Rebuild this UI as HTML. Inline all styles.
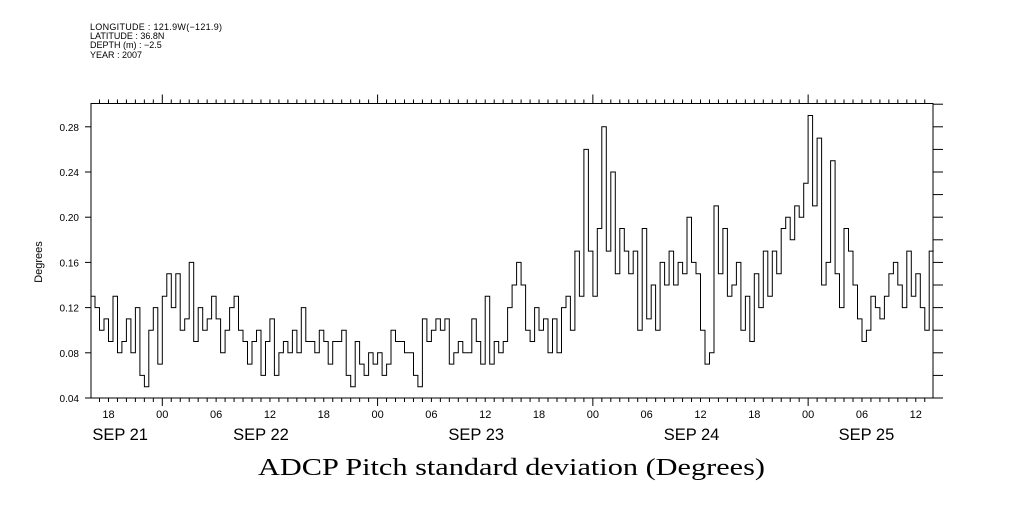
<!DOCTYPE html>
<html><head><meta charset="utf-8"><style>
body{margin:0;background:#fff;}
svg text{font-family:"Liberation Sans",sans-serif;fill:#000;}
</style></head><body>
<svg id="chart" width="1009" height="504" viewBox="0 0 1009 504" xmlns="http://www.w3.org/2000/svg">
<g>
<text x="90" y="30" textLength="132" style="font-size:9px">LONGITUDE : 121.9W(−121.9)</text>
<text x="90" y="39" style="font-size:9px">LATITUDE : 36.8N</text>
<text x="90" y="48" style="font-size:9px">DEPTH (m) : −2.5</text>
<text x="90" y="58" style="font-size:9px">YEAR : 2007</text>
</g>
<rect x="91" y="103.5" width="842" height="294.5" fill="none" stroke="#000" stroke-width="1"/>
<g id="axes"></g>
<path id="series" fill="none" stroke="#000" stroke-width="1"/>
<text x="42" y="262" transform="rotate(-90 42 262)" text-anchor="middle" style="font-size:11px">Degrees</text>
<text x="258" y="475" textLength="507" lengthAdjust="spacingAndGlyphs" style="font-family:'Liberation Serif',serif;font-size:24px">ADCP Pitch standard deviation (Degrees)</text>
</svg>
<script>
// time in hours since Sep 21 00:00, half-hour steps starting at 16:00
const startHour = 16;
const stepHours = 0.5;
const values = [0.13,0.12,0.10,0.11,0.09,0.13,0.08,0.09,0.11,0.08,0.12,0.06,0.05,0.10,0.12,0.07,
0.13,0.15,0.12,0.15,0.10,0.11,0.16,0.09,0.12,0.10,0.11,0.13,0.11,0.08,0.10,0.12,0.13,0.10,0.09,0.07,
0.09,0.10,0.06,0.09,0.11,0.06,0.08,0.09,0.08,0.10,0.08,0.12,0.09,0.09,0.08,0.10,0.09,0.07,0.09,0.09,
0.10,0.06,0.05,0.09,0.07,0.06,0.08,0.07,0.08,0.06,0.07,0.10,0.09,0.09,0.08,0.08,0.06,0.05,0.11,0.09,
0.10,0.11,0.10,0.11,0.07,0.08,0.09,0.08,0.08,0.11,0.09,0.07,0.13,0.07,0.09,0.08,0.09,0.12,0.14,0.16,
0.14,0.10,0.09,0.12,0.10,0.11,0.08,0.11,0.08,0.12,0.13,0.10,0.17,0.13,0.26,0.17,0.13,0.19,0.28,0.17,
0.24,0.15,0.19,0.17,0.15,0.17,0.10,0.19,0.11,0.14,0.10,0.16,0.14,0.17,0.14,0.16,0.15,0.20,0.16,0.15,
0.10,0.07,0.08,0.21,0.15,0.19,0.13,0.14,0.16,0.10,0.13,0.09,0.15,0.12,0.17,0.13,0.17,0.15,0.19,0.20,
0.18,0.21,0.20,0.23,0.29,0.21,0.27,0.14,0.16,0.25,0.15,0.12,0.19,0.17,0.14,0.11,0.09,0.10,0.13,0.12,
0.11,0.13,0.15,0.16,0.14,0.12,0.17,0.13,0.15,0.12,0.10,0.17];
const yTicks = [0.04,0.08,0.12,0.16,0.20,0.24,0.28];
const yTickLabels = ["0.04","0.08","0.12","0.16","0.20","0.24","0.28"];
const xTickHours = [18,24,30,36,42,48,54,60,66,72,78,84,90,96,102,108];
const xTickLabels = ["18","00","06","12","18","00","06","12","18","00","06","12","18","00","06","12"];
const dayLabelHours = [19.3,35,59,83,102.5];
const dayLabels = ["SEP 21","SEP 22","SEP 23","SEP 24","SEP 25"];

const X0=91,X1=933,Y0=398,Y1=103.5;
const xs = h => 162.3 + (h-24)*8.97;
const ys = v => 398 - (v-0.04)*1130;
const NS="http://www.w3.org/2000/svg";
const axes=document.getElementById('axes');
function mk(tag,attrs){const e=document.createElementNS(NS,tag);for(const k in attrs)e.setAttribute(k,attrs[k]);axes.appendChild(e);return e;}
let d="";
values.forEach((v,i)=>{const x=xs(startHour+i*stepHours),y=ys(v);
 if(i===0)d+=`M${x.toFixed(1)},${y.toFixed(1)}`;else d+=`V${y.toFixed(1)}`;
 d+=`H${(x+4.485).toFixed(1)}`;});
document.getElementById('series').setAttribute('d',d);
for(let h=16;h<=110;h++){const x=xs(h);if(x<X0||x>X1)continue;
 const major=(h%24===0);
 let t=mk('line',{x1:x,x2:x,y1:Y0,y2:Y0+(major?8:4),stroke:'#000'});
 
 
 let u=mk('line',{x1:x,x2:x,y1:Y1,y2:Y1-(major?9:4),stroke:'#000'});
 
 }
xTickHours.forEach((h,i)=>{let t=mk('text',{x:xs(h),y:418,'text-anchor':'middle',style:'font-size:11px'});t.textContent=xTickLabels[i];
 
 });
dayLabelHours.forEach((h,i)=>{let t=mk('text',{x:xs(h),y:440,'text-anchor':'middle',style:'font-size:16.5px'});t.textContent=dayLabels[i];
 
 });
for(let k=0;k<=13;k++){const v=0.04+k*0.02;const y=ys(v);if(y<Y1)continue;
 let r=mk('line',{x1:X1,x2:X1+10,y1:y,y2:y,stroke:'#000'});
 
 }
yTicks.forEach((v,i)=>{const y=ys(v);
 let l=mk('line',{x1:X0-6,x2:X0,y1:y,y2:y,stroke:'#000'});
 
 
 let t=mk('text',{x:79,y:y+4,'text-anchor':'end',style:'font-size:10px'});t.textContent=yTickLabels[i];
 
 });
</script>
</body></html>
